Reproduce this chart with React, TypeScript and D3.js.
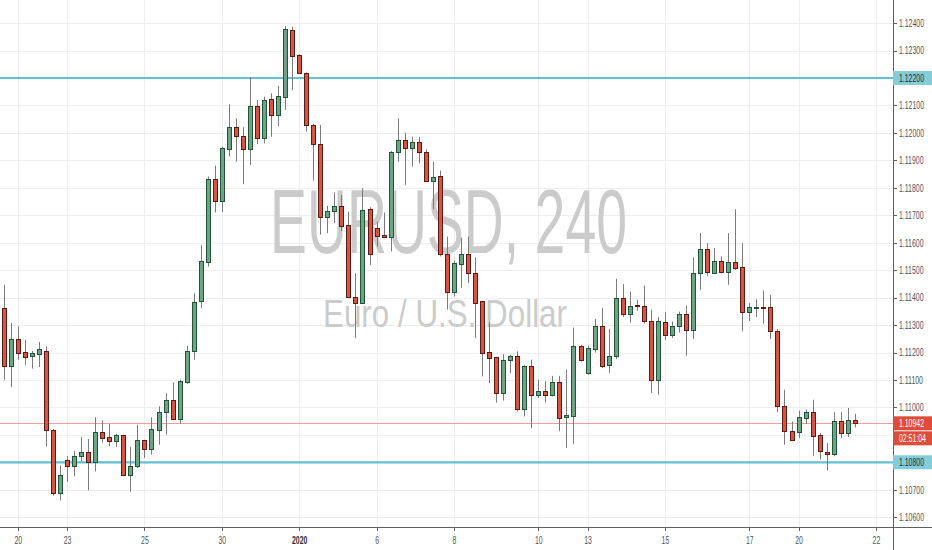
import React from "react";
import * as d3 from "d3";

const opens = [1.11362,1.11149,1.1125,1.11202,1.11186,1.11195,1.11207,1.10916,1.10687,1.10807,1.10785,1.10822,1.10838,1.10802,1.1091,1.10891,1.10879,1.10898,1.10752,1.10785,1.10881,1.1085,1.10919,1.10983,1.11028,1.10959,1.11091,1.11206,1.11386,1.11531,1.11833,1.11752,1.11943,1.12023,1.1199,1.11943,1.12099,1.11981,1.12122,1.12065,1.12132,1.12375,1.12284,1.12217,1.12028,1.11961,1.11695,1.11716,1.11734,1.11664,1.11402,1.1138,1.11722,1.11654,1.11628,1.11622,1.1193,1.11974,1.11946,1.11968,1.11931,1.11826,1.11843,1.11559,1.11422,1.11523,1.11558,1.11491,1.11386,1.11202,1.11182,1.11052,1.11174,1.11186,1.10995,1.11152,1.11046,1.11058,1.11044,1.11092,1.10965,1.10967,1.11225,1.11127,1.11212,1.11297,1.11153,1.11186,1.11398,1.1134,1.11373,1.1137,1.11313,1.11101,1.11311,1.11265,1.11295,1.11341,1.11283,1.11489,1.11576,1.11491,1.11535,1.11495,1.1153,1.11513,1.11346,1.11363,1.11367,1.11364,1.11277,1.11006,1.10915,1.10909,1.10961,1.10982,1.109,1.10838,1.10831,1.10949,1.10907,1.10955];
const highs = [1.11447,1.11307,1.11295,1.11246,1.11206,1.11238,1.11222,1.10921,1.10788,1.10822,1.1084,1.10892,1.10885,1.10964,1.10952,1.10941,1.10904,1.109,1.10856,1.10937,1.10882,1.10964,1.11004,1.11052,1.11091,1.11101,1.11225,1.11416,1.11591,1.11841,1.11881,1.1195,1.12104,1.12053,1.12021,1.12203,1.1212,1.12132,1.12144,1.12171,1.12389,1.12387,1.12287,1.1222,1.12033,1.12029,1.11734,1.11783,1.11774,1.11713,1.11489,1.11799,1.11729,1.11677,1.1171,1.11934,1.12053,1.12001,1.11986,1.11984,1.1194,1.11895,1.11863,1.11622,1.11535,1.11618,1.11622,1.11547,1.11386,1.11309,1.11182,1.11194,1.11192,1.11204,1.11155,1.11174,1.11101,1.11095,1.11115,1.11115,1.11137,1.11291,1.11228,1.11225,1.11322,1.11362,1.11285,1.11468,1.11449,1.11422,1.11392,1.11444,1.11356,1.11329,1.11347,1.11313,1.11349,1.1137,1.11547,1.11635,1.11598,1.1158,1.1155,1.11635,1.11722,1.11598,1.1138,1.11394,1.11426,1.1141,1.11285,1.11064,1.10949,1.10988,1.10992,1.11028,1.10907,1.1087,1.10982,1.10982,1.10998,1.10977];
const lows = [1.11101,1.11074,1.11174,1.11155,1.11141,1.11147,1.10858,1.10678,1.10661,1.10728,1.10749,1.10803,1.10698,1.10767,1.10872,1.10858,1.10856,1.10751,1.10693,1.10779,1.10816,1.10828,1.10864,1.10901,1.10955,1.10941,1.11085,1.11174,1.11362,1.11513,1.1171,1.11711,1.11914,1.11895,1.11813,1.11883,1.11959,1.11962,1.11986,1.12025,1.12084,1.12156,1.12215,1.12005,1.11826,1.11629,1.11635,1.11671,1.11643,1.114,1.11253,1.11378,1.11519,1.11586,1.11617,1.11568,1.11895,1.11811,1.11877,1.11889,1.11823,1.11722,1.1155,1.11356,1.11404,1.11436,1.11453,1.11253,1.11113,1.11089,1.11018,1.11025,1.11125,1.10985,1.10967,1.10925,1.11034,1.11018,1.1104,1.10913,1.10852,1.10868,1.11167,1.11119,1.112,1.11143,1.11125,1.11176,1.11329,1.11309,1.11352,1.11305,1.11052,1.11046,1.11246,1.11253,1.11273,1.11189,1.11249,1.11428,1.11479,1.11487,1.11491,1.11447,1.11501,1.11277,1.11315,1.11329,1.11305,1.11249,1.10983,1.10864,1.1088,1.10888,1.10941,1.10824,1.1081,1.10771,1.10822,1.10888,1.10892,1.10927];
const closes = [1.11149,1.1125,1.112,1.11182,1.11198,1.11211,1.10916,1.10687,1.10754,1.10785,1.10824,1.10838,1.10802,1.1091,1.10889,1.10879,1.10898,1.10752,1.10788,1.10881,1.10848,1.10921,1.10983,1.11028,1.10959,1.11095,1.11207,1.11384,1.11534,1.11833,1.11752,1.11944,1.12023,1.11989,1.11942,1.12099,1.11981,1.1212,1.12065,1.12133,1.12377,1.12281,1.12219,1.12028,1.1196,1.11695,1.11717,1.11734,1.11662,1.11402,1.1138,1.1172,1.11559,1.11626,1.11622,1.11932,1.11974,1.11946,1.11968,1.1193,1.11825,1.11841,1.11559,1.11422,1.11525,1.11558,1.11489,1.1138,1.11198,1.1118,1.11052,1.11174,1.11186,1.10995,1.11152,1.11046,1.11058,1.11044,1.11092,1.10961,1.10971,1.11225,1.11174,1.11216,1.11297,1.11149,1.11189,1.11398,1.1134,1.1137,1.11368,1.11313,1.11098,1.11313,1.11265,1.11295,1.11341,1.11283,1.11491,1.11576,1.11495,1.11535,1.11495,1.1153,1.11507,1.11346,1.11364,1.11367,1.11362,1.11277,1.11006,1.10915,1.10882,1.10964,1.10982,1.10897,1.1084,1.10831,1.10949,1.10907,1.10955,1.10942];

const timeTickIndex = [2, 9, 20, 31, 42, 53, 64, 76, 83, 94, 106, 113, 124];
const timeTickLabel = ["20", "23", "25", "30", "2020", "6", "8", "10", "13", "15", "17", "20", "22"];
const priceTicks = [1.106,1.107,1.108,1.109,1.11,1.111,1.112,1.113,1.114,1.115,1.116,1.117,1.118,1.119,1.12,1.121,1.122,1.123,1.124];
const levelLines = [1.122, 1.108];
const lastPrice = 1.10942;
const countdown = "02:51:04";
const symbolTitle = "EURUSD, 240";
const symbolDesc = "Euro / U.S. Dollar";

const W = 932, H = 550;
const PANE_R = 893, PANE_B = 527;
const UP = "#6ba583", UP_B = "#225437", DN = "#d75442", DN_B = "#5b1a13", WICK = "#7a7a7c";
const TEAL = "#62c0d3", TEAL_BOX = "#85ccd9";
const SX = 0.66;
const FONT = "'Liberation Sans', Arial, sans-serif";

function SText({ x, y, children, fill = "#4f525b", size = 10.5, anchor = "start", weight = "normal" }: any) {
  return (
    <text transform={`translate(${x},${y}) scale(${SX},1)`} fontSize={size} fill={fill} textAnchor={anchor} fontFamily={FONT} fontWeight={weight}>
      {children}
    </text>
  );
}

export default function App() {
  const n = opens.length;
  const x = d3.scaleLinear().domain([0, n - 1]).range([3.8, 854.8]);
  const y = d3.scaleLinear().domain([1.106, 1.124]).range([517.2, 23.1]);
  const fmt = d3.format(".5f");

  // price labels hidden behind label boxes
  const boxTops = [
    ...levelLines.map((p) => [y(p) - 7, y(p) + 7]),
    [y(lastPrice) - 7, y(lastPrice) + 22],
  ];
  const hidden = (p: number) => boxTops.some(([a, b]) => y(p) + 4 > a && y(p) - 4 < b);

  return (
    <svg width={W} height={H} style={{ position: "fixed", left: 0, top: 0, background: "#fff" }} xmlns="http://www.w3.org/2000/svg">
      <rect x={0} y={0} width={W} height={H} fill="#fff" />
      {priceTicks.map((p) => (
        <line key={"hg" + p} x1={0} x2={PANE_R} y1={Math.round(y(p)) + 0.5} y2={Math.round(y(p)) + 0.5} stroke="#eceef2" />
      ))}
      {timeTickIndex.map((t, i) => (
        <line key={"vg" + i} x1={Math.round(x(t)) + 0.5} x2={Math.round(x(t)) + 0.5} y1={0} y2={PANE_B} stroke="#eceef2" />
      ))}
      <text x={270} y={253} fontSize={91} fill="#cbcbcb" fontFamily={FONT} textLength={357} lengthAdjust="spacingAndGlyphs">{symbolTitle}</text>
      <text x={323} y={327} fontSize={39} fill="#cbcbcb" fontFamily={FONT} textLength={244} lengthAdjust="spacingAndGlyphs">{symbolDesc}</text>
      {levelLines.map((p) => (
        <line key={"lv" + p} x1={0} x2={PANE_R} y1={y(p)} y2={y(p)} stroke={TEAL} strokeWidth={2.2} />
      ))}
      <line x1={0} x2={PANE_R} y1={Math.round(y(lastPrice)) + 0.5} y2={Math.round(y(lastPrice)) + 0.5} stroke="#f0a096" strokeWidth={1} />
      {opens.map((o, i) => {
        const c = closes[i];
        const up = c >= o;
        const cx = Math.round(x(i));
        const top = Math.round(y(Math.max(o, c)));
        const bot = Math.round(y(Math.min(o, c)));
        const h = Math.max(1, bot - top);
        return (
          <g key={"c" + i}>
            <line x1={cx + 0.5} x2={cx + 0.5} y1={y(highs[i])} y2={y(lows[i])} stroke={WICK} strokeWidth={1} />
            <rect x={cx - 1.5} y={top + 0.5} width={4} height={h} fill={up ? UP : DN} stroke={up ? UP_B : DN_B} strokeWidth={1} />
          </g>
        );
      })}
      <line x1={PANE_R + 0.5} x2={PANE_R + 0.5} y1={0} y2={H} stroke="#5d606b" />
      <line x1={0} x2={W} y1={PANE_B + 0.5} y2={PANE_B + 0.5} stroke="#5d606b" />
      {priceTicks.map((p) => (
        <g key={"pt" + p}>
          <line x1={PANE_R} x2={PANE_R + 4} y1={Math.round(y(p)) + 0.5} y2={Math.round(y(p)) + 0.5} stroke="#5d606b" />
          {!hidden(p) && <SText x={899} y={y(p) + 3.8}>{fmt(p)}</SText>}
        </g>
      ))}
      {timeTickIndex.map((t, i) => (
        <g key={"tt" + i}>
          <line x1={Math.round(x(t)) + 0.5} x2={Math.round(x(t)) + 0.5} y1={PANE_B} y2={PANE_B + 4} stroke="#5d606b" />
          <SText x={x(t) + 0.5} y={544} anchor="middle" fill={timeTickLabel[i] === "2020" ? "#2a2e39" : "#4f525b"} weight={timeTickLabel[i] === "2020" ? "bold" : "normal"}>
            {timeTickLabel[i]}
          </SText>
        </g>
      ))}
      {levelLines.map((p) => (
        <g key={"ll" + p}>
          <rect x={PANE_R} y={y(p) - 7} width={W - PANE_R} height={14} fill={TEAL_BOX} />
          <SText x={899} y={y(p) + 3.8} fill="#1c2a30">{fmt(p)}</SText>
        </g>
      ))}
      <rect x={PANE_R} y={y(lastPrice) - 7} width={W - PANE_R} height={14} fill="#df4d3a" />
      <SText x={899} y={y(lastPrice) + 3.8} fill="#fff">{fmt(lastPrice)}</SText>
      <rect x={PANE_R} y={y(lastPrice) + 8} width={W - PANE_R} height={14} fill="#df4d3a" />
      <SText x={899} y={y(lastPrice) + 18.8} fill="#fff">{countdown}</SText>
    </svg>
  );
}
